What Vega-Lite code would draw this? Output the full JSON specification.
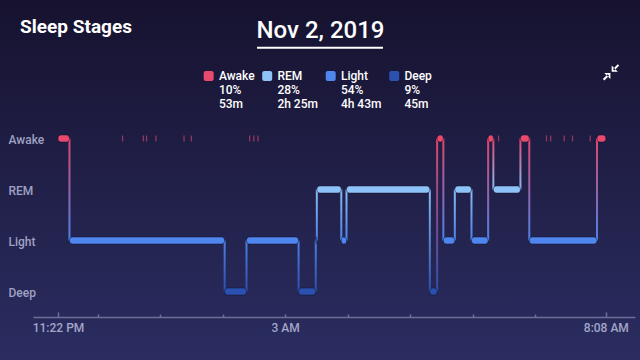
{
  "$schema": "https://vega.github.io/schema/vega-lite/v6.json",
  "width": 640,
  "height": 360,
  "autosize": {"type": "none"},
  "padding": 0,
  "background": "#201d47",
  "config": {
    "font": "Roboto",
    "view": {
      "stroke": null,
      "fill": {"gradient": "linear", "x1": 0, "y1": 0, "x2": 0, "y2": 1, "stops": [{"offset": 0, "color": "#16122f"}, {"offset": 1, "color": "#2b2d61"}]}
    }
  },
  "datasets": {
    "stages": [
      {"stage": "Awake", "depth": 3},
      {"stage": "REM", "depth": 2},
      {"stage": "Light", "depth": 1},
      {"stage": "Deep", "depth": 0}
    ],
    "segments": [
      {"stage": "Awake", "start": "2019-11-01T23:22:00", "end": "2019-11-01T23:33:00"},
      {"stage": "Light", "start": "2019-11-01T23:33:00", "end": "2019-11-02T02:02:00"},
      {"stage": "Deep", "start": "2019-11-02T02:02:00", "end": "2019-11-02T02:23:00"},
      {"stage": "Light", "start": "2019-11-02T02:23:00", "end": "2019-11-02T03:13:00"},
      {"stage": "Deep", "start": "2019-11-02T03:13:00", "end": "2019-11-02T03:29:30"},
      {"stage": "Light", "start": "2019-11-02T03:29:30", "end": "2019-11-02T03:30:30"},
      {"stage": "REM", "start": "2019-11-02T03:30:30", "end": "2019-11-02T03:54:00"},
      {"stage": "Light", "start": "2019-11-02T03:54:00", "end": "2019-11-02T03:59:00"},
      {"stage": "REM", "start": "2019-11-02T03:59:00", "end": "2019-11-02T05:19:00"},
      {"stage": "Deep", "start": "2019-11-02T05:19:00", "end": "2019-11-02T05:26:00"},
      {"stage": "Awake", "start": "2019-11-02T05:26:00", "end": "2019-11-02T05:32:00"},
      {"stage": "Light", "start": "2019-11-02T05:32:00", "end": "2019-11-02T05:43:00"},
      {"stage": "REM", "start": "2019-11-02T05:43:00", "end": "2019-11-02T05:59:00"},
      {"stage": "Light", "start": "2019-11-02T05:59:00", "end": "2019-11-02T06:15:00"},
      {"stage": "Awake", "start": "2019-11-02T06:15:00", "end": "2019-11-02T06:20:00"},
      {"stage": "REM", "start": "2019-11-02T06:20:00", "end": "2019-11-02T06:46:00"},
      {"stage": "Awake", "start": "2019-11-02T06:46:00", "end": "2019-11-02T06:54:30"},
      {"stage": "Light", "start": "2019-11-02T06:54:30", "end": "2019-11-02T07:59:30"},
      {"stage": "Awake", "start": "2019-11-02T07:59:30", "end": "2019-11-02T08:08:00"}
    ],
    "transitions": [
      {"t": "2019-11-01T23:33:00", "hi": "Awake", "lo": "Light"},
      {"t": "2019-11-02T02:02:00", "hi": "Light", "lo": "Deep"},
      {"t": "2019-11-02T02:23:00", "hi": "Light", "lo": "Deep"},
      {"t": "2019-11-02T03:13:00", "hi": "Light", "lo": "Deep"},
      {"t": "2019-11-02T03:29:30", "hi": "Light", "lo": "Deep"},
      {"t": "2019-11-02T03:30:30", "hi": "REM", "lo": "Light"},
      {"t": "2019-11-02T03:54:00", "hi": "REM", "lo": "Light"},
      {"t": "2019-11-02T03:59:00", "hi": "REM", "lo": "Light"},
      {"t": "2019-11-02T05:19:00", "hi": "REM", "lo": "Deep"},
      {"t": "2019-11-02T05:26:00", "hi": "Awake", "lo": "Deep"},
      {"t": "2019-11-02T05:32:00", "hi": "Awake", "lo": "Light"},
      {"t": "2019-11-02T05:43:00", "hi": "REM", "lo": "Light"},
      {"t": "2019-11-02T05:59:00", "hi": "REM", "lo": "Light"},
      {"t": "2019-11-02T06:15:00", "hi": "Awake", "lo": "Light"},
      {"t": "2019-11-02T06:20:00", "hi": "Awake", "lo": "REM"},
      {"t": "2019-11-02T06:46:00", "hi": "Awake", "lo": "REM"},
      {"t": "2019-11-02T06:54:30", "hi": "Awake", "lo": "Light"},
      {"t": "2019-11-02T07:59:30", "hi": "Awake", "lo": "Light"}
    ],
    "wakes": [
      {"t": "2019-11-02T00:24:00"},
      {"t": "2019-11-02T00:44:00"},
      {"t": "2019-11-02T00:47:00"},
      {"t": "2019-11-02T00:56:00"},
      {"t": "2019-11-02T01:23:00"},
      {"t": "2019-11-02T01:30:00"},
      {"t": "2019-11-02T02:26:00"},
      {"t": "2019-11-02T02:30:00"},
      {"t": "2019-11-02T02:34:00"},
      {"t": "2019-11-02T06:25:00"},
      {"t": "2019-11-02T07:11:00"},
      {"t": "2019-11-02T07:15:00"},
      {"t": "2019-11-02T07:28:00"},
      {"t": "2019-11-02T07:36:00"},
      {"t": "2019-11-02T07:53:00"}
    ]
  },
  "layer": [
    {
      "data": {"name": "transitions"},
      "transform": [
        {"lookup": "hi", "from": {"data": {"name": "stages"}, "key": "stage", "fields": ["depth"]}, "as": ["yhi"]},
        {"lookup": "lo", "from": {"data": {"name": "stages"}, "key": "stage", "fields": ["depth"]}, "as": ["ylo"]}
      ],
      "mark": {"type": "bar", "orient": "vertical", "width": 2, "opacity": 0.95},
      "encoding": {
        "x": {"field": "t", "type": "temporal"},
        "y": {"field": "yhi", "type": "quantitative"},
        "y2": {"field": "ylo"},
        "color": {
          "condition": [
            {"test": "datum.hi == 'Awake' && datum.lo == 'Light'", "value": {"gradient": "linear", "x1": 0, "y1": 0, "x2": 0, "y2": 1, "stops": [{"offset": 0, "color": "#e8496f"}, {"offset": 1, "color": "#4e86ee"}]}},
            {"test": "datum.hi == 'Awake' && datum.lo == 'REM'", "value": {"gradient": "linear", "x1": 0, "y1": 0, "x2": 0, "y2": 1, "stops": [{"offset": 0, "color": "#e8496f"}, {"offset": 1, "color": "#8ec3fa"}]}},
            {"test": "datum.hi == 'Awake' && datum.lo == 'Deep'", "value": {"gradient": "linear", "x1": 0, "y1": 0, "x2": 0, "y2": 1, "stops": [{"offset": 0, "color": "#e8496f"}, {"offset": 1, "color": "#2b51b0"}]}},
            {"test": "datum.hi == 'REM' && datum.lo == 'Light'", "value": {"gradient": "linear", "x1": 0, "y1": 0, "x2": 0, "y2": 1, "stops": [{"offset": 0, "color": "#8ec3fa"}, {"offset": 1, "color": "#4e86ee"}]}},
            {"test": "datum.hi == 'REM' && datum.lo == 'Deep'", "value": {"gradient": "linear", "x1": 0, "y1": 0, "x2": 0, "y2": 1, "stops": [{"offset": 0, "color": "#8ec3fa"}, {"offset": 1, "color": "#2b51b0"}]}}
          ],
          "value": {"gradient": "linear", "x1": 0, "y1": 0, "x2": 0, "y2": 1, "stops": [{"offset": 0, "color": "#4e86ee"}, {"offset": 1, "color": "#2b51b0"}]}
        }
      }
    },
    {
      "data": {"name": "segments"},
      "transform": [
        {"lookup": "stage", "from": {"data": {"name": "stages"}, "key": "stage", "fields": ["depth"]}}
      ],
      "mark": {"type": "bar", "orient": "horizontal", "height": 7, "cornerRadius": 3, "stroke": "#120e2a", "strokeWidth": 0.8, "strokeOpacity": 0.6},
      "encoding": {
        "x": {
          "field": "start",
          "type": "temporal",
          "scale": {
            "domain": [
              {"year": 2019, "month": 11, "date": 1, "hours": 22, "minutes": 58},
              {"year": 2019, "month": 11, "date": 2, "hours": 8, "minutes": 36}
            ],
            "range": [33, 635],
            "nice": false,
            "padding": 0
          },
          "axis": {
            "orient": "bottom",
            "offset": -43,
            "grid": false,
            "values": [
              {"year": 2019, "month": 11, "date": 1, "hours": 23, "minutes": 22},
              {"year": 2019, "month": 11, "date": 2, "hours": 0},
              {"year": 2019, "month": 11, "date": 2, "hours": 1},
              {"year": 2019, "month": 11, "date": 2, "hours": 2},
              {"year": 2019, "month": 11, "date": 2, "hours": 3},
              {"year": 2019, "month": 11, "date": 2, "hours": 4},
              {"year": 2019, "month": 11, "date": 2, "hours": 5},
              {"year": 2019, "month": 11, "date": 2, "hours": 6},
              {"year": 2019, "month": 11, "date": 2, "hours": 7},
              {"year": 2019, "month": 11, "date": 2, "hours": 8, "minutes": 8}
            ],
            "labelExpr": "hours(datum.value) == 23 ? '11:22 PM' : hours(datum.value) == 3 ? '3 AM' : hours(datum.value) == 8 ? '8:08 AM' : ''",
            "domainColor": "#6d7096",
            "domainWidth": 1.5,
            "tickColor": "#6d7096",
            "tickWidth": 1.5,
            "tickSize": {"condition": {"test": "hours(datum.value) == 23 || hours(datum.value) == 8", "value": -5}, "value": -3},
            "labelPadding": {"condition": {"test": "hours(datum.value) == 23 || hours(datum.value) == 8", "value": 19.7}, "value": 17.7},
            "labelBaseline": "alphabetic",
            "labelAlign": "center",
            "labelFlush": false,
            "labelOverlap": false,
            "labelColor": "#a3a5c7",
            "labelFont": "Roboto",
            "labelFontSize": 12,
            "labelFontWeight": 500,
            "title": "Nov 2, 2019",
            "titleX": 320,
            "titleY": -279.7,
            "titleAngle": 0,
            "titleAlign": "center",
            "titleBaseline": "alphabetic",
            "titleFont": "Roboto",
            "titleFontSize": 24,
            "titleFontWeight": 500,
            "titleColor": "#ffffff"
          }
        },
        "x2": {"field": "end"},
        "y": {
          "field": "depth",
          "type": "quantitative",
          "stack": null,
          "scale": {"domain": [0, 3], "range": [291.5, 138.5], "nice": false, "zero": false, "padding": 0},
          "axis": {
            "orient": "left",
            "offset": -8,
            "values": [0, 1, 2, 3],
            "labelExpr": "['Deep','Light','REM','Awake'][datum.value]",
            "ticks": false,
            "tickSize": 0,
            "domain": false,
            "grid": false,
            "labelAlign": "left",
            "labelBaseline": "middle",
            "labelPadding": 0,
            "labelOffset": 1,
            "labelColor": "#9fa1c3",
            "labelFont": "Roboto",
            "labelFontSize": 12,
            "labelFontWeight": 500,
            "title": "Sleep Stages",
            "titleAngle": 0,
            "titleX": 11.6,
            "titleY": 32.3,
            "titleAlign": "left",
            "titleBaseline": "alphabetic",
            "titleFont": "Roboto",
            "titleFontSize": 19,
            "titleFontWeight": "bold",
            "titleColor": "#ffffff"
          }
        },
        "color": {
          "field": "stage",
          "type": "nominal",
          "scale": {"domain": ["Awake", "REM", "Light", "Deep"], "range": ["#e8496f", "#8ec3fa", "#4e86ee", "#2b51b0"]},
          "legend": {
            "orient": "none",
            "legendX": 202.7,
            "legendY": 70,
            "direction": "horizontal",
            "columns": 4,
            "title": null,
            "padding": 0,
            "columnPadding": 6.5,
            "labelOffset": 4.2,
            "labelExpr": "datum.label == 'Awake' ? ['Awake', '10%', '53m'] : datum.label == 'REM' ? ['REM', '28%', '2h 25m'] : datum.label == 'Light' ? ['Light', '54%', '4h 43m'] : ['Deep', '9%', '45m']",
            "labelFont": "Roboto",
            "labelFontSize": 12,
            "labelFontWeight": 500,
            "labelColor": "#ffffff",
            "labelBaseline": "middle",
            "labelLimit": 200,
            "symbolType": "M-0.6,-1H0.6A0.4,0.4 0 0 1 1,-0.6V0.6A0.4,0.4 0 0 1 0.6,1H-0.6A0.4,0.4 0 0 1 -1,0.6V-0.6A0.4,0.4 0 0 1 -0.6,-1Z",
            "symbolSize": 100,
            "symbolStrokeWidth": 0,
            "symbolOpacity": 1
          }
        }
      }
    },
    {
      "data": {"name": "wakes"},
      "mark": {"type": "tick", "orient": "vertical", "size": 6, "thickness": 1.3, "color": "#b23d66", "opacity": 0.8},
      "encoding": {
        "x": {"field": "t", "type": "temporal"},
        "y": {"datum": 3, "type": "quantitative"}
      }
    },
    {
      "data": {"values": [{}]},
      "mark": {"type": "rule", "color": "#ffffff", "strokeWidth": 2},
      "encoding": {
        "x": {"datum": {"year": 2019, "month": 11, "date": 2, "hours": 2, "minutes": 33, "seconds": 4}, "type": "temporal"},
        "x2": {"datum": {"year": 2019, "month": 11, "date": 2, "hours": 4, "minutes": 34, "seconds": 3}},
        "y": {"datum": 4.78, "type": "quantitative"}
      }
    },
    {
      "data": {"values": [{}]},
      "mark": {
        "type": "point",
        "shape": "M0.08,-0.08L0.08,-0.85L0.85,-0.08Z M0.42,-0.24L1.02,-0.84L0.84,-1.02L0.24,-0.42Z M-0.08,0.08L-0.08,0.85L-0.85,0.08Z M-0.42,0.24L-1.02,0.84L-0.84,1.02L-0.24,0.42Z",
        "size": 256,
        "filled": true,
        "color": "#ffffff",
        "opacity": 1,
        "strokeWidth": 0
      },
      "encoding": {
        "x": {"datum": {"year": 2019, "month": 11, "date": 2, "hours": 8, "minutes": 13}, "type": "temporal"},
        "y": {"datum": 4.298, "type": "quantitative"}
      }
    }
  ]
}
